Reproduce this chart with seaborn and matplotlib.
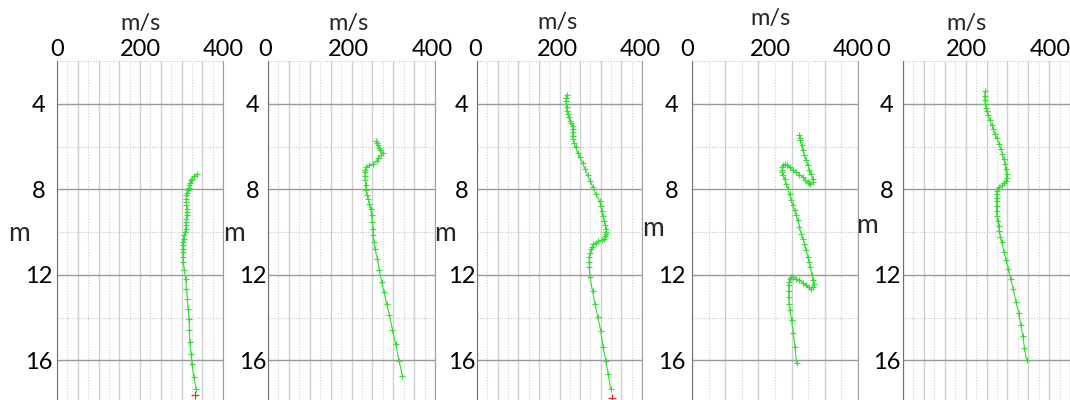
import numpy as np
import matplotlib
matplotlib.use('Agg')
import matplotlib.pyplot as plt
import matplotlib.transforms as mtrans
import seaborn as sns

sns.set_style('white')
plt.rcParams['font.family'] = ['Lato', 'DejaVu Sans']

# profils vitesse (m/s) / profondeur (m)
DEPTH_1 = [7.30, 7.40, 7.50, 7.58, 7.70, 7.81, 7.93, 8.05, 8.17, 8.28, 8.44, 8.60, 8.75, 8.91,
           9.07, 9.22, 9.37, 9.53, 9.68, 9.84, 10.00, 10.15, 10.30, 10.46, 10.62, 10.78, 10.93,
           11.17, 11.40, 11.79, 12.18, 12.64, 13.11, 13.58, 14.05, 14.59, 15.14, 15.68, 16.15,
           16.77, 17.32]
VEL_1 = [337, 330, 325, 322, 320, 319, 317, 315, 313, 312, 311, 312, 312, 313, 313, 313, 312,
         311, 311, 310, 308, 306, 305, 303, 303, 303, 303, 304, 304, 307, 310, 312, 314, 316,
         318, 319, 320, 323, 325, 330, 335]

DEPTH_2 = [5.76, 5.85, 5.95, 6.06, 6.18, 6.29, 6.41, 6.54, 6.69, 6.80, 6.88, 6.96, 7.08, 7.19,
           7.38, 7.58, 7.80, 8.05, 8.25, 8.44, 8.68, 8.91, 9.22, 9.53, 9.84, 10.15, 10.47, 10.78,
           11.24, 11.79, 12.33, 12.80, 13.35, 13.89, 14.56, 15.25, 16.02, 16.74]
VEL_2 = [258, 261, 264, 266, 268, 275, 270, 264, 260, 252, 243, 235, 233, 232, 232, 233, 234,
         235, 237, 240, 243, 246, 248, 250, 251, 252, 254, 256, 262, 267, 272, 278, 284, 291,
         298, 306, 314, 322]

DEPTH_3 = [3.58, 3.72, 3.86, 4.02, 4.17, 4.33, 4.48, 4.64, 4.79, 4.91, 5.03, 5.18, 5.34, 5.50,
           5.65, 5.85, 6.04, 6.28, 6.51, 6.78, 7.05, 7.33, 7.60, 7.91, 8.22, 8.53, 8.77, 9.00,
           9.24, 9.47, 9.67, 9.86, 10.00, 10.09, 10.20, 10.32, 10.38, 10.43, 10.50, 10.56, 10.68,
           10.79, 10.98, 11.18, 11.42, 11.65, 12.12, 12.74, 13.36, 13.99, 14.61, 15.39, 16.01,
           16.63, 17.33]
VEL_3 = [217, 216, 216, 216, 217, 218, 220, 222, 225, 229, 232, 232, 232, 232, 233, 236, 239,
         244, 250, 256, 262, 268, 274, 281, 288, 297, 300, 302, 305, 308, 311, 313, 313, 313,
         311, 308, 302, 294, 288, 282, 279, 277, 274, 272, 272, 272, 274, 280, 286, 293, 300,
         306, 312, 318, 324]

DEPTH_4 = [5.48, 5.58, 5.70, 5.94, 6.18, 6.41, 6.64, 6.87, 7.10, 7.30, 7.50, 7.66, 7.77, 7.72,
           7.66, 7.55, 7.43, 7.31, 7.19, 7.08, 6.96, 6.88, 6.83, 6.88, 6.96, 7.08, 7.19, 7.35,
           7.50, 7.74, 7.97, 8.24, 8.51, 8.75, 8.98, 9.22, 9.45, 9.76, 10.07, 10.30, 10.54, 10.85,
           11.16, 11.40, 11.63, 12.02, 12.22, 12.41, 12.55, 12.64, 12.58, 12.49, 12.37, 12.25,
           12.17, 12.10, 12.12, 12.17, 12.33, 12.49, 12.76, 13.03, 13.34, 13.65, 14.12, 14.74,
           15.37, 16.14]
VEL_4 = [259, 260, 261, 264, 267, 271, 275, 279, 283, 287, 291, 292, 285, 282, 279, 273, 267,
         259, 251, 243, 235, 228, 223, 219, 217, 217, 217, 220, 223, 227, 231, 235, 239, 243,
         247, 251, 255, 259, 263, 267, 271, 275, 279, 282, 285, 289, 291, 293, 291, 287, 281,
         275, 267, 259, 251, 243, 239, 235, 234, 233, 233, 233, 234, 236, 240, 244, 248, 252]

DEPTH_5 = [3.42, 3.62, 3.81, 4.00, 4.20, 4.36, 4.52, 4.76, 5.00, 5.20, 5.39, 5.62, 5.86, 6.10,
           6.34, 6.58, 6.81, 7.05, 7.28, 7.45, 7.60, 7.70, 7.81, 7.89, 7.97, 8.10, 8.23, 8.39,
           8.55, 8.78, 9.02, 9.26, 9.50, 9.73, 9.97, 10.21, 10.45, 10.92, 11.31, 11.71, 12.18,
           12.66, 13.29, 13.76, 14.32, 14.87, 15.42, 15.98]
VEL_5 = [196, 196, 196, 197, 199, 201, 204, 208, 212, 216, 220, 225, 230, 234, 238, 241, 244,
         246, 248, 248, 247, 242, 236, 231, 227, 225, 224, 224, 224, 224, 224, 225, 227, 229,
         231, 233, 236, 242, 247, 252, 258, 264, 271, 277, 282, 287, 291, 296]

# derniers points (en rouge) des profils 1 et 3
END_DEPTH = {0: [17.63], 2: [17.75]}
END_VEL = {0: [333], 2: [327]}

X_TICKS = [0, 200, 400]
Y_TICKS = [4, 8, 12, 16]

profils = [(VEL_1, DEPTH_1), (VEL_2, DEPTH_2), (VEL_3, DEPTH_3), (VEL_4, DEPTH_4), (VEL_5, DEPTH_5)]

VERT = '#33dd33'
W, H = 1070, 400
gauche = [57, 268, 477, 692, 903]
largeur = [166, 167, 165, 166, 167]
haut = 61
pas_x = [25, 25, 25, 40, 25]
pad_y = [13, 11.2, 10.8, 14.4, 11.5]
m_x = [38, 34, 32, 38.5, 35.5]
m_y = [0.49, 0.49, 0.49, 0.505, 0.515]
# decalage horizontal (px) du bloc d'etiquettes du haut, comme sur l'original
dx_haut = [0, -3, -2, -5, -20]
dy_ms = [37, 37, 38, 42, 37]

fig = plt.figure(figsize=(10.7, 4.0), dpi=100)

for i, (vel, dep) in enumerate(profils):
    ax = fig.add_axes([gauche[i] / W, 0, largeur[i] / W, (H - haut) / H])

    # grille
    for k, xv in enumerate(np.arange(0, 401, pas_x[i])):
        if k % 2 == 0:
            ax.axvline(xv, color='#cfcfcf', lw=1.0, zorder=0)
        else:
            ax.axvline(xv, color='#d0d0d0', lw=0.8, ls=(0, (1, 1.5)), zorder=0)
    for k, yv in enumerate(np.arange(2, 18, 2)):
        if k % 2 == 1:
            ax.axhline(yv, color='#9a9a9a', lw=1.0, zorder=0)
        else:
            ax.axhline(yv, color='#c4c4c4', lw=0.8, ls=(0, (1, 1.5)), zorder=0)

    sns.lineplot(x=vel, y=dep, sort=False, estimator=None, color=VERT, lw=0.8,
                 marker='+', markersize=5, markeredgewidth=0.8, markeredgecolor=VERT, ax=ax)
    if i in END_VEL:
        sns.scatterplot(x=END_VEL[i], y=END_DEPTH[i], marker='+', color='#e03030',
                        s=35, linewidth=0.9, ax=ax)

    ax.set_xlim(0, 400)
    ax.set_ylim(17.85, 2)
    ax.set_xticks(X_TICKS)
    ax.set_yticks(Y_TICKS)
    ax.xaxis.tick_top()
    ax.tick_params(axis='x', length=0, pad=0.5, labelsize=17, colors='black')
    ax.tick_params(axis='y', length=0, pad=pad_y[i], labelsize=17, colors='black')
    for lbl in ax.get_yticklabels():
        lbl.set_ha('center')
    decal = mtrans.ScaledTranslation(dx_haut[i] / 100, 0, fig.dpi_scale_trans)
    for lbl in ax.get_xticklabels():
        lbl.set_transform(lbl.get_transform() + decal)

    ax.set_xlabel('m/s', fontsize=17)
    ax.xaxis.set_label_coords(0.5 + dx_haut[i] / largeur[i], 1 + dy_ms[i] / (H - haut))
    ax.xaxis.label.set_va('center')
    ax.set_ylabel('m', fontsize=19, rotation=0, va='center', ha='center')
    ax.yaxis.set_label_coords(-m_x[i] / largeur[i], m_y[i])

    ax.spines['top'].set_visible(False)
    ax.spines['bottom'].set_visible(False)
    ax.spines['left'].set_color('#707070')
    ax.spines['right'].set_color('#a0a0a0')

fig.savefig('out.png', dpi=100)
